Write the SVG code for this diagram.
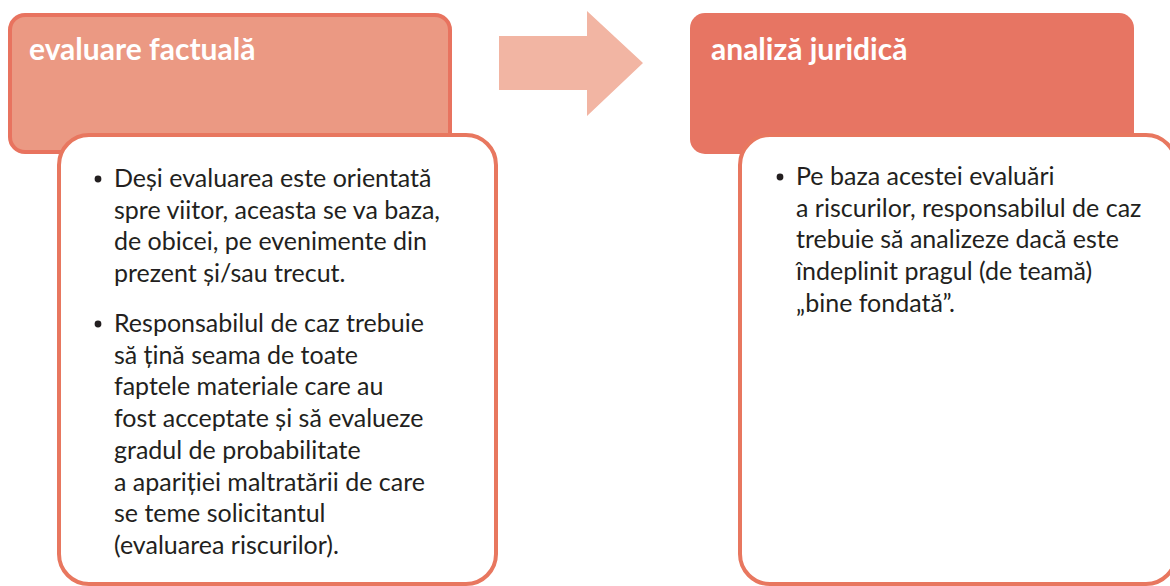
<svg xmlns="http://www.w3.org/2000/svg" width="1170" height="586" viewBox="0 0 1170 586">
  <style>
    .title { font-family: Lato, "Liberation Sans", sans-serif; font-weight: bold; font-size: 30px; fill: #ffffff; }
    .body { font-family: Lato, "Liberation Sans", sans-serif; font-size: 25px; fill: #231f20; }
    .card { fill: #ffffff; stroke: #e8775f; stroke-width: 4; }
    .bullet { fill: #231f20; }
  </style>
  <rect width="1170" height="586" fill="#ffffff"/>

  <!-- Step 1: factual assessment -->
  <g id="evaluare-factuala">
    <rect x="10" y="15" width="440" height="137" rx="15" fill="#eb9983" stroke="#e8735f" stroke-width="4"/>
    <text class="title" x="29" y="60">evaluare factuală</text>
  </g>
  <g id="evaluare-factuala-detalii">
    <rect class="card" x="59" y="135" width="437" height="449" rx="30"/>
    <circle class="bullet" cx="98" cy="179" r="3.4"/>
    <text class="body">
      <tspan x="114" y="187">Deși evaluarea este orientată</tspan>
      <tspan x="114" y="218.7">spre viitor, aceasta se va baza,</tspan>
      <tspan x="114" y="250.4">de obicei, pe evenimente din</tspan>
      <tspan x="114" y="282.1">prezent și/sau trecut.</tspan>
    </text>
    <circle class="bullet" cx="98" cy="324" r="3.4"/>
    <text class="body">
      <tspan x="114" y="332">Responsabilul de caz trebuie</tspan>
      <tspan x="114" y="363.7">să țină seama de toate</tspan>
      <tspan x="114" y="395.4">faptele materiale care au</tspan>
      <tspan x="114" y="427.1">fost acceptate și să evalueze</tspan>
      <tspan x="114" y="458.8">gradul de probabilitate</tspan>
      <tspan x="114" y="490.5">a apariției maltratării de care</tspan>
      <tspan x="114" y="522.2">se teme solicitantul</tspan>
      <tspan x="114" y="553.9">(evaluarea riscurilor).</tspan>
    </text>
  </g>

  <!-- Flow arrow between the two steps -->
  <g id="connectors">
    <polygon points="499,36 587,36 587,11 643,63 587,116 587,90 499,90" fill="#f2b5a3"/>
  </g>

  <!-- Step 2: legal analysis -->
  <g id="analiza-juridica">
    <rect x="690" y="13" width="444" height="141" rx="15" fill="#e77563"/>
    <text class="title" x="711" y="60">analiză juridică</text>
  </g>
  <g id="analiza-juridica-detalii">
    <rect class="card" x="740" y="135" width="436" height="449" rx="30"/>
    <circle class="bullet" cx="780" cy="177" r="3.4"/>
    <text class="body">
      <tspan x="796" y="185">Pe baza acestei evaluări</tspan>
      <tspan x="796" y="216.7">a riscurilor, responsabilul de caz</tspan>
      <tspan x="796" y="248.4">trebuie să analizeze dacă este</tspan>
      <tspan x="796" y="280.1">îndeplinit pragul (de teamă)</tspan>
      <tspan x="796" y="311.8">„bine fondată”.</tspan>
    </text>
  </g>
</svg>
